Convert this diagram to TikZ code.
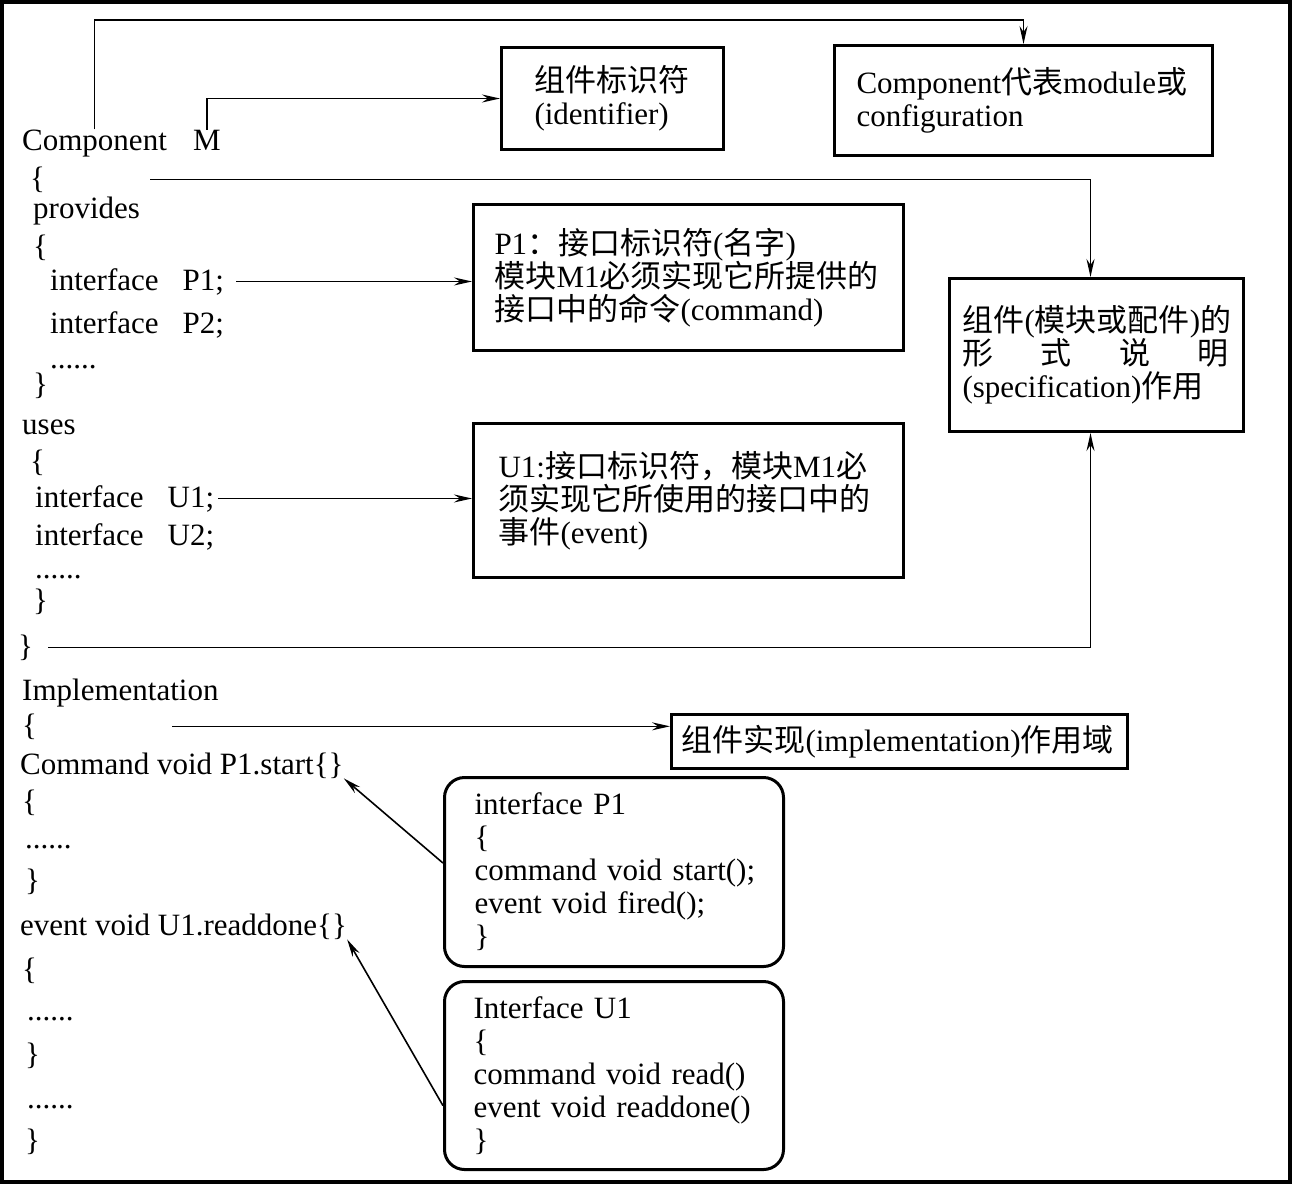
\documentclass[tikz,border=0pt]{standalone}
\usepackage{fontspec}
\setmainfont{Liberation Serif}
\newfontfamily\cjk{Noto Sans CJK SC}
\newcommand{\zh}[1]{{\cjk #1}}
\usetikzlibrary{arrows.meta}

\begin{document}
\begin{tikzpicture}[
x=1pt,y=-1pt,
font=\fontsize{31}{33}\selectfont,
code/.style={anchor=base west,inner sep=0pt},
box/.style={draw,line width=3pt,anchor=north west,align=left,inner ysep=0pt},
rbox/.style={box,rounded corners=20pt},
link/.style={line width=1.6pt,-{Stealth[length=18pt,width=8pt,inset=6pt]}}
]
\useasboundingbox (0,0) rectangle (1292,1184);
\draw[line width=4pt] (2,2) rectangle (1290,1182);

% left column: the component code
\node[code] (cmp) at (22,150) {Component};
\node[code] (m) at (193,150) {M};
\node[code] (b1) at (30,188) {\{};
\node[code] (prov) at (33,218) {provides};
\node[code] (b2) at (33,256) {\{};
\node[code] (ip1) at (50,290) {interface\hspace{24pt}P1;};
\node[code] (ip2) at (50,333) {interface\hspace{24pt}P2;};
\node[code] (d1) at (50,368) {......};
\node[code] (b3) at (33,394) {\}};
\node[code] (uses) at (22,434) {uses};
\node[code] (b4) at (30,471) {\{};
\node[code] (iu1) at (35,507) {interface\hspace{24pt}U1;};
\node[code] (iu2) at (35,545) {interface\hspace{24pt}U2;};
\node[code] (d2) at (35,578) {......};
\node[code] (b5) at (33,610) {\}};
\node[code] (b6) at (18,656) {\}};
\node[code] (impl) at (22,700) {Implementation};
\node[code] (b7) at (22,735) {\{};
\node[code] (cmd) at (20,774) {Command void P1.start\{\}};
\node[code] (b8) at (22,811) {\{};
\node[code] (d3) at (25,848) {......};
\node[code] (b9) at (25,890) {\}};
\node[code] (ev) at (20,935) {event void U1.readdone\{\}};
\node[code] (b10) at (22,979) {\{};
\node[code] (d4) at (27,1020) {......};
\node[code] (b11) at (25,1064) {\}};
\node[code] (d5) at (27,1108) {......};
\node[code] (b12) at (25,1150) {\}};

% boxes
\node[box,minimum width=222pt,minimum height=102pt,text width=156pt,inner xsep=33pt]
  (idbox) at (500,46) {\zh{组件标识符}\\(identifier)};
\node[box,minimum width=378pt,minimum height=110pt,text width=334pt,inner xsep=22pt]
  (cbox) at (833,44) {Component\zh{代表}module\zh{或}\\configuration};
\node[box,minimum width=430pt,minimum height=146pt,text width=388pt,inner xsep=21pt]
  (pbox) at (472,203) {P1\zh{：接口标识符}(\zh{名字})\\\zh{模块}M1\zh{必须实现它所提供的}\\\zh{接口中的命令}(command)};
\node[box,minimum width=294pt,minimum height=153pt,text width=268pt,inner xsep=13pt]
  (spec) at (948,277) {\zh{组件}(\zh{模块或配件})\zh{的}\\\makebox[266pt]{\zh{形}\hfill\zh{式}\hfill\zh{说}\hfill\zh{明}}\\(specification)\zh{作用}};
\node[box,minimum width=430pt,minimum height=154pt,text width=380pt,inner xsep=25pt]
  (ubox) at (472,422) {U1:\zh{接口标识符，模块}M1\zh{必}\\\zh{须实现它所使用的接口中的}\\\zh{事件}(event)};
\node[box,minimum width=456pt,minimum height=54pt,text width=436pt,inner xsep=10pt]
  (ibox) at (670,713) {\zh{组件实现}(implementation)\zh{作用域}};
\node[rbox,minimum width=339pt,minimum height=189pt,text width=279pt,inner xsep=30pt]
  (rp1) at (443,776) {interface P1\\\{\\\mbox{command void start();}\\\mbox{event void fired();}\\\}};
\node[rbox,minimum width=339pt,minimum height=188pt,text width=281pt,inner xsep=29pt]
  (ru1) at (443,980) {Interface U1\\\{\\\mbox{command void read()}\\\mbox{event void readdone()}\\\}};

% connectors
\coordinate (top) at (0,20);
\draw[link,line width=1.2pt] (cmp.north) -- (cmp.north |- top) -| (cbox.north);
\draw[link] (m.north) |- (idbox.west);
\draw[link,shorten <=105pt] (b1.east) -| ([xshift=-6pt]spec.north);
\draw[link,shorten <=12pt] (ip1.east) -- (ip1.east -| pbox.west);
\draw[link,shorten <=4pt] (iu1.east) -- (iu1.east -| ubox.west);
\draw[link,shorten <=15pt] (b6.east) -| ([xshift=-6pt]spec.south);
\draw[link,shorten <=135pt] (b7.east) -- (b7.east -| ibox.west);
\draw[link] (rp1.177) -- (cmd.south east);
\draw[link] (ru1.190) -- (ev.south east);
\end{tikzpicture}
\end{document}
